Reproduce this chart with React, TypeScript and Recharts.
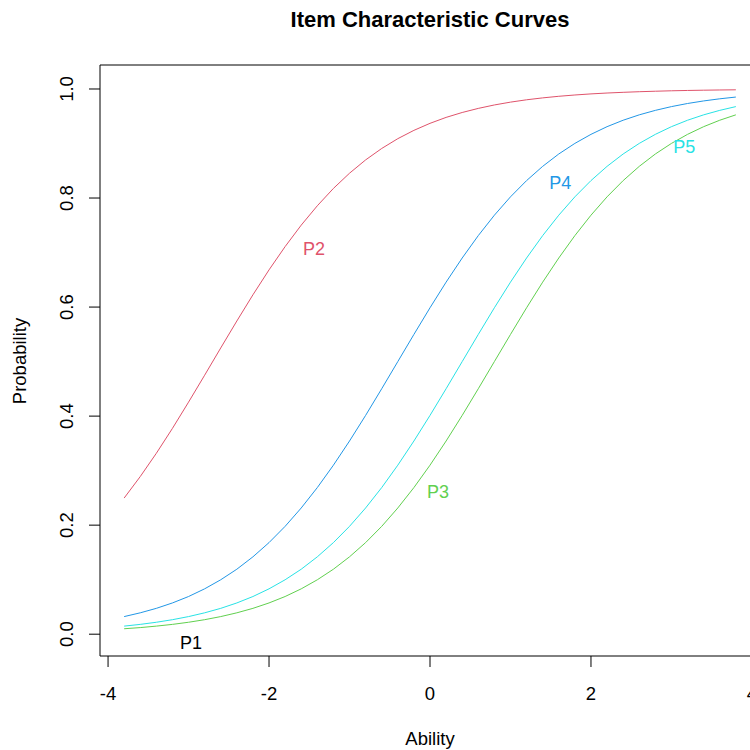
import { LineChart, Line, XAxis, YAxis, ReferenceArea, ReferenceDot } from 'recharts';

const theta = [
  -3.8, -3.6, -3.4, -3.2, -3.0, -2.8, -2.6, -2.4, -2.2, -2.0, -1.8, -1.6, -1.4, -1.2, -1.0, -0.8, -0.6, -0.4, -0.2, 0.0,
  0.2, 0.4, 0.6, 0.8, 1.0, 1.2, 1.4, 1.6, 1.8, 2.0, 2.2, 2.4, 2.6, 2.8, 3.0, 3.2, 3.4, 3.6, 3.8,
];

const p2 = [
  0.2497, 0.2891, 0.3318, 0.3775, 0.4256, 0.475, 0.525, 0.5744, 0.6225, 0.6682, 0.7109, 0.7503, 0.7858, 0.8176, 0.8455,
  0.8699, 0.8909, 0.9089, 0.9241, 0.937, 0.9479, 0.9569, 0.9644, 0.9707, 0.9759, 0.9802, 0.9837, 0.9866, 0.989, 0.991,
  0.9926, 0.9939, 0.995, 0.9959, 0.9967, 0.9973, 0.9978, 0.9982, 0.9985,
];

const p4 = [
  0.0323, 0.0392, 0.0474, 0.0573, 0.0691, 0.0832, 0.0998, 0.1192, 0.1419, 0.168, 0.1978, 0.2315, 0.2689, 0.31, 0.3543,
  0.4013, 0.4502, 0.5, 0.5498, 0.5987, 0.6457, 0.69, 0.7311, 0.7685, 0.8022, 0.832, 0.8581, 0.8808, 0.9002, 0.9168,
  0.9309, 0.9427, 0.9526, 0.9608, 0.9677, 0.9734, 0.9781, 0.982, 0.9852,
];

// P1 lies under P5 in the reference, so only its label shows
const p5 = [
  0.0148, 0.018, 0.0219, 0.0266, 0.0323, 0.0392, 0.0474, 0.0573, 0.0691, 0.0832, 0.0998, 0.1192, 0.1419, 0.168, 0.1978,
  0.2315, 0.2689, 0.31, 0.3543, 0.4013, 0.4502, 0.5, 0.5498, 0.5987, 0.6457, 0.69, 0.7311, 0.7685, 0.8022, 0.832,
  0.8581, 0.8808, 0.9002, 0.9168, 0.9309, 0.9427, 0.9526, 0.9608, 0.9677,
];

const p3 = [
  0.01, 0.0121, 0.0148, 0.018, 0.0219, 0.0266, 0.0323, 0.0392, 0.0474, 0.0573, 0.0691, 0.0832, 0.0998, 0.1192, 0.1419,
  0.168, 0.1978, 0.2315, 0.2689, 0.31, 0.3543, 0.4013, 0.4502, 0.5, 0.5498, 0.5987, 0.6457, 0.69, 0.7311, 0.7685,
  0.8022, 0.832, 0.8581, 0.8808, 0.9002, 0.9168, 0.9309, 0.9427, 0.9526,
];

const xTicks = [-4, -2, 0, 2, 4];
const yTicks = [0, 0.2, 0.4, 0.6, 0.8, 1.0];

const labelNames = ['P1', 'P2', 'P3', 'P4', 'P5'];
const labelX = [-2.97, -1.44, 0.1, 1.62, 3.16];
const labelY = [-0.017, 0.706, 0.261, 0.828, 0.894];

const colors = ['#000000', '#DF536B', '#61D04F', '#2297E6', '#28E2E5'];
const font = '"Liberation Sans", Arial, sans-serif';

const data = theta.map((t, i) => ({ theta: t, p2: p2[i], p3: p3[i], p4: p4[i], p5: p5[i] }));

const XTick = (props: any) => (
  <text x={props.x} y={props.y + 26} textAnchor="middle" dominantBaseline="central" fontSize={18.5} fontFamily={font} fill="#000">
    {props.payload.value}
  </text>
);

const YTick = (props: any) => {
  const cx = props.x - 22;
  const cy = props.y;
  return (
    <text
      x={cx}
      y={cy}
      textAnchor="middle"
      dominantBaseline="central"
      transform={`rotate(-90, ${cx}, ${cy})`}
      fontSize={18.5}
      fontFamily={font}
      fill="#000"
    >
      {Number(props.payload.value).toFixed(1)}
    </text>
  );
};

export default function App() {
  return (
    <div style={{ position: 'absolute', left: 0, top: 0, width: 750, height: 750, overflow: 'hidden', background: '#fff', fontFamily: font }}>
      <div style={{ position: 'absolute', left: 430, top: 20, transform: 'translate(-50%, -50%)', fontSize: 22, fontWeight: 'bold', whiteSpace: 'nowrap' }}>
        Item Characteristic Curves
      </div>
      <div style={{ position: 'absolute', left: 430, top: 739, transform: 'translate(-50%, -50%)', fontSize: 18.5, whiteSpace: 'nowrap' }}>
        Ability
      </div>
      <div style={{ position: 'absolute', left: 20, top: 361, transform: 'translate(-50%, -50%) rotate(-90deg)', fontSize: 18.5, whiteSpace: 'nowrap' }}>
        Probability
      </div>
      <LineChart width={770} height={750} data={data} margin={{ top: 65, right: 10, bottom: 0, left: 0 }}>
        <XAxis
          dataKey="theta"
          type="number"
          domain={[-4.1, 4.1]}
          ticks={xTicks}
          allowDataOverflow
          height={94}
          axisLine={false}
          tickLine={{ stroke: '#000' }}
          tickSize={11}
          tickMargin={0}
          tick={XTick}
          interval={0}
        />
        <YAxis
          type="number"
          domain={[-0.04, 1.044]}
          ticks={yTicks}
          allowDataOverflow
          width={100}
          axisLine={false}
          tickLine={{ stroke: '#000' }}
          tickSize={11}
          tickMargin={0}
          tick={YTick}
          interval={0}
        />
        <ReferenceArea x1={-4.1} x2={4.1} y1={-0.04} y2={1.044} fill="none" stroke="#000" strokeWidth={1} ifOverflow="visible" />
        <Line dataKey="p2" stroke={colors[1]} strokeWidth={1} dot={false} type="linear" isAnimationActive={false} />
        <Line dataKey="p3" stroke={colors[2]} strokeWidth={1} dot={false} type="linear" isAnimationActive={false} />
        <Line dataKey="p4" stroke={colors[3]} strokeWidth={1} dot={false} type="linear" isAnimationActive={false} />
        <Line dataKey="p5" stroke={colors[4]} strokeWidth={1} dot={false} type="linear" isAnimationActive={false} />
        {labelNames.map((name, i) => (
          <ReferenceDot
            key={name}
            x={labelX[i]}
            y={labelY[i]}
            r={0}
            ifOverflow="visible"
            shape={(props: any) => (
              <text x={props.cx} y={props.cy} textAnchor="middle" dominantBaseline="central" fontSize={18} fontFamily={font} fill={colors[i]}>
                {name}
              </text>
            )}
          />
        ))}
      </LineChart>
    </div>
  );
}
